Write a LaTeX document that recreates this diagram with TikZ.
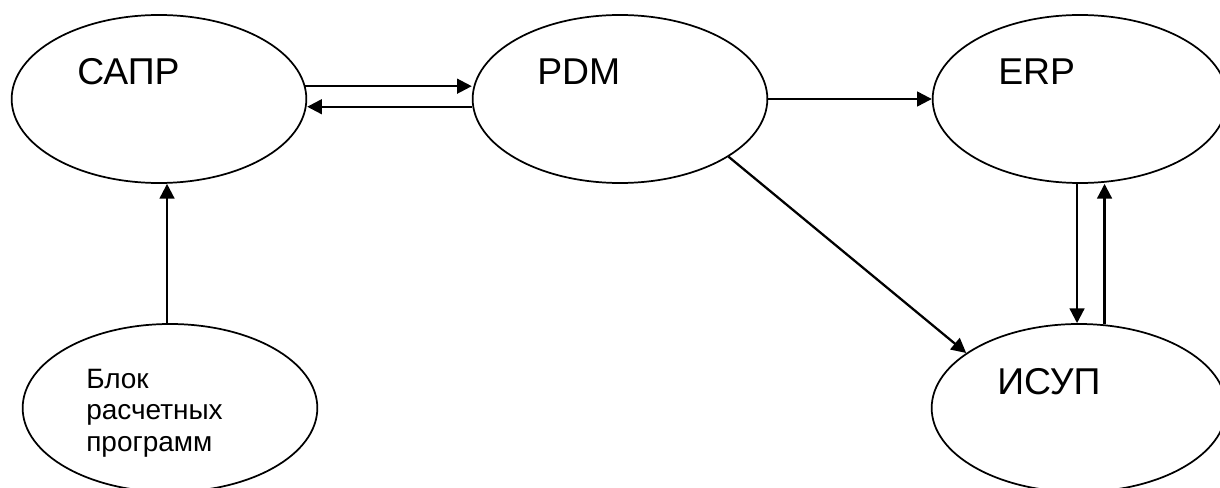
\documentclass[tikz,border=0pt]{standalone}
\usepackage{fontspec}
\setmainfont{Liberation Sans}
\usetikzlibrary{shapes.geometric,arrows.meta,calc}

\begin{document}
\begin{tikzpicture}[x=0.75pt,y=-0.75pt,
    sys/.style={draw,ellipse,line width=1.3pt,inner sep=0pt,minimum width=221pt,minimum height=126pt},
    sysname/.style={inner sep=0pt,anchor=base west,font=\fontsize{28}{34}\selectfont},
    sysnote/.style={inner sep=0pt,anchor=north west,align=left,font=\fontsize{21}{23.5}\selectfont},
    flow/.style={line width=1.7pt,-{Triangle[length=11pt,width=11pt]}}]
  \useasboundingbox (0,0) rectangle (1220,488);
  % Systems
  \node[sys] (sapr) at (159,99) {};
  \node[sys] (pdm) at (620,99) {};
  \node[sys] (erp) at (1080,99) {};
  \node[sys] (blok) at (170,408) {};
  \node[sys] (isup) at (1079,408) {};
  % Names
  \node[sysname] (saprname) at (77,85) {САПР};
  \node[sysname] (pdmname) at (537,85) {PDM};
  \node[sysname] (erpname) at (998,85) {ERP};
  \node[sysname] (isupname) at (997,394) {ИСУП};
  \node[sysnote] (bloknote) at (86,369) {Блок\\расчетных\\программ};
  % Data flows
  \draw[flow] (sapr.5.5) -- (sapr.5.5 -| pdm.west);
  \draw[flow] (pdm.183.5) -- (pdm.183.5 -| sapr.east);
  \draw[flow] (pdm.east) -- (erp.west);
  \draw[flow] (pdm.-28) -- (isup.154);
  \draw[flow] (erp.-92) -- (erp.-92 |- isup.north);
  \draw[flow] (isup.73) -- (isup.73 |- erp.south);
  \draw[flow] (blok.92) -- (blok.92 |- sapr.south);
\end{tikzpicture}
\end{document}
